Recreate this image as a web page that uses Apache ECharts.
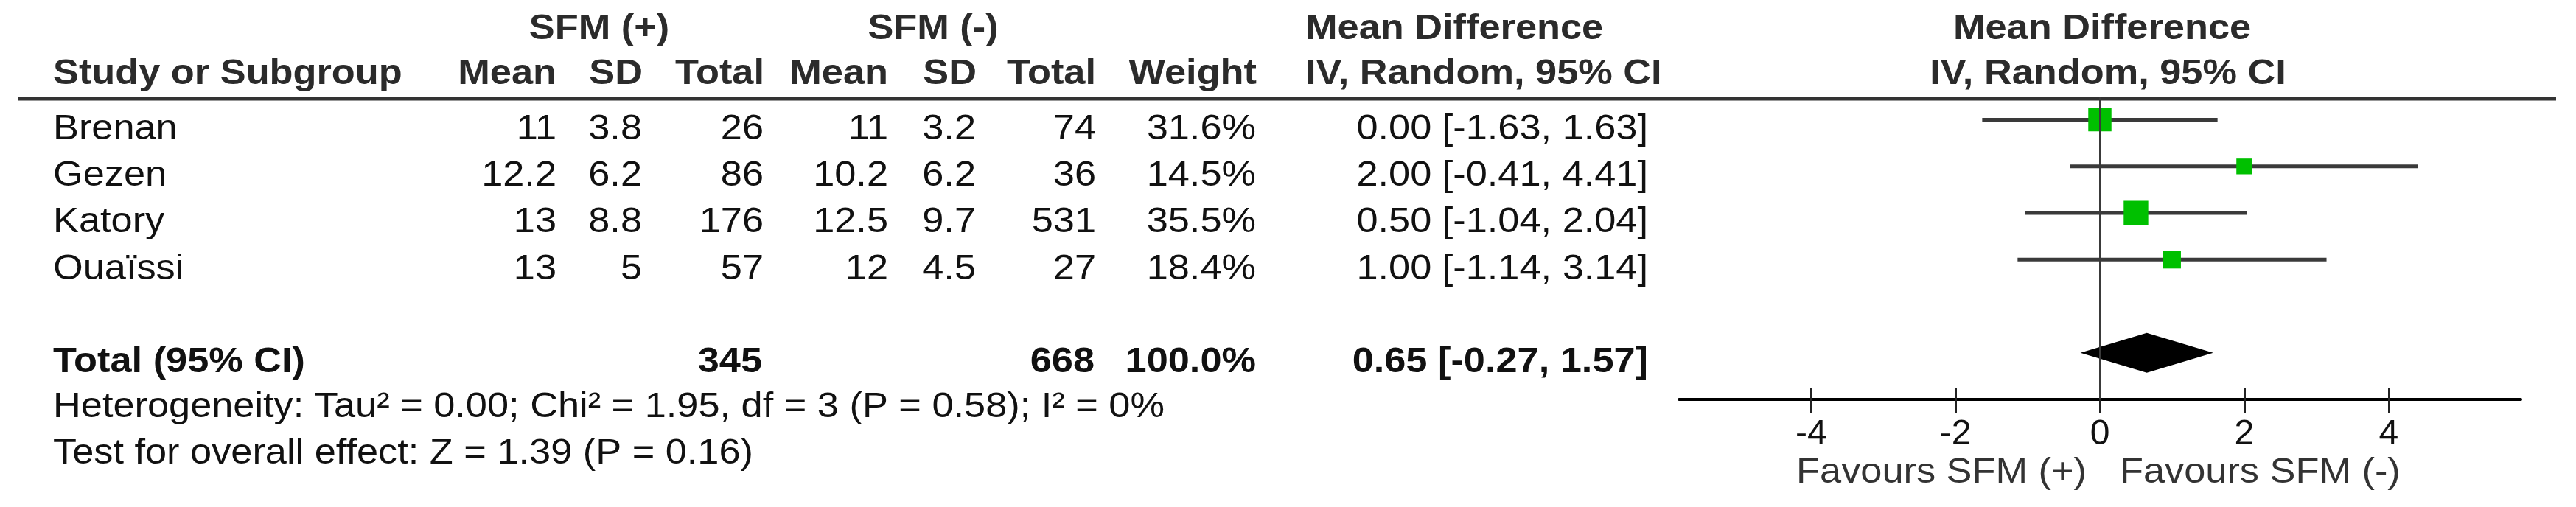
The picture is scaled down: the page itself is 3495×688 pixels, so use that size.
<!DOCTYPE html>
<html><head><meta charset="utf-8">
<script src="https://cdn.jsdelivr.net/npm/echarts@6/dist/echarts.min.js"></script>
<style>html,body{margin:0;padding:0;background:#fff}#c{width:3495px;height:688px}</style>
</head><body><div id="c"></div>
<script>
// ---- data ----
const studies = ['Brenan', 'Gezen', 'Katory', 'Ouaïssi'];
const meanPos = ['11', '12.2', '13', '13'];
const sdPos = ['3.8', '6.2', '8.8', '5'];
const totalPos = [26, 86, 176, 57];
const meanNeg = ['11', '10.2', '12.5', '12'];
const sdNeg = ['3.2', '6.2', '9.7', '4.5'];
const totalNeg = [74, 36, 531, 27];
const weights = [31.6, 14.5, 35.5, 18.4];
const md = [0.00, 2.00, 0.50, 1.00];
const ciLow = [-1.63, -0.41, -1.04, -1.14];
const ciHigh = [1.63, 4.41, 2.04, 3.14];
const pooledLabel = 'Total (95% CI)';
const pooledTotals = [345, 668];
const pooledWeight = [100.0];
const pooledEffect = [0.65, -0.27, 1.57];
const xTicks = [-4, -2, 0, 2, 4];
const footnotes = ['Heterogeneity: Tau² = 0.00; Chi² = 1.95, df = 3 (P = 0.58); I² = 0%',
                   'Test for overall effect: Z = 1.39 (P = 0.16)'];
const favourLabels = ['Favours SFM (+)', 'Favours SFM (-)'];

// ---- layout ----
const FONT = '"Liberation Sans", Arial, sans-serif';
const FS = 48;
const SX = 1.09;
const TOTAL_ROW = 5;
const fmt2 = v => v.toFixed(2);
const ciText = (m, l, h) => fmt2(m) + ' [' + fmt2(l) + ', ' + fmt2(h) + ']';

const chart = echarts.init(document.getElementById('c'), null, {renderer: 'canvas'});
const rowsIdx = studies.map((s, i) => i);

chart.setOption({
  animation: false,
  backgroundColor: '#ffffff',
  grid: {left: 2278, width: 1142, top: 131, height: 411, containLabel: false},
  xAxis: [{
    type: 'value', min: -5.83, max: 5.83, position: 'bottom',
    axisLine: {show: true, onZero: false, lineStyle: {color: '#000', width: 4}},
    axisTick: {show: true, customValues: xTicks, length: 18, lineStyle: {color: '#222', width: 3}},
    axisLabel: {show: false},
    splitLine: {show: false}
  }, {
    type: 'value', min: -5.83, max: 5.83, position: 'bottom', gridIndex: 0, offset: 0,
    axisLine: {show: false, onZero: false},
    axisTick: {show: true, inside: true, customValues: xTicks, length: 15, lineStyle: {color: '#222', width: 3}},
    axisLabel: {show: true, customValues: xTicks, fontSize: 48, fontFamily: FONT, color: '#111', margin: 24},
    splitLine: {show: false}
  }],
  yAxis: {type: 'value', min: -0.5, max: 6, inverse: true, show: false, splitLine: {show: false}},
  series: [
    {
      type: 'custom', name: 'ci', z: 2,
      data: rowsIdx.map(i => [ciLow[i], ciHigh[i], i]),
      renderItem: (params, api) => {
        const p1 = api.coord([api.value(0), api.value(2)]);
        const p2 = api.coord([api.value(1), api.value(2)]);
        return {type: 'line', shape: {x1: p1[0], y1: p1[1], x2: p2[0], y2: p2[1]},
                style: {stroke: '#3a3a3a', lineWidth: 5}};
      },
      markLine: {
        silent: true, symbol: 'none', label: {show: false},
        lineStyle: {color: '#3a3a3a', width: 3, type: 'solid'},
        data: [{xAxis: 0}]
      }
    },
    {
      type: 'scatter', name: 'studies', z: 3, symbol: 'rect',
      data: rowsIdx.map(i => [md[i], i, weights[i]]),
      symbolSize: v => Math.sqrt(v[2]) * 5.6,
      itemStyle: {color: '#00c000', opacity: 1}
    },
    {
      type: 'custom', name: 'pooled', z: 3,
      data: [[pooledEffect[0], pooledEffect[1], pooledEffect[2], TOTAL_ROW]],
      renderItem: (params, api) => {
        const r = api.value(3);
        const c = api.coord([api.value(0), r]);
        const l = api.coord([api.value(1), r]);
        const h = api.coord([api.value(2), r]);
        const hh = 27;
        return {type: 'polygon', shape: {points: [[l[0], c[1]], [c[0], c[1] - hh], [h[0], c[1]], [c[0], c[1] + hh]]},
                style: {fill: '#000'}};
      }
    }
  ]
});

// ---- table text ----
const yPix = r => chart.convertToPixel({yAxisIndex: 0}, r) + 13;
const x0 = chart.convertToPixel({xAxisIndex: 0}, 0);
const g = [];
function txt(t, x, y, align, bold, size, color) {
  g.push({type: 'text', silent: true, x: x, y: y, scaleX: SX, scaleY: 1, style: {
    text: String(t), x: 0, y: 0, align: align || 'left', verticalAlign: 'middle',
    fontFamily: FONT, fontSize: size || FS, fontWeight: bold ? 'bold' : 'normal', fill: color || '#111'}});
}
// header line
g.push({type: 'line', silent: true, shape: {x1: 25, y1: 134, x2: 3468, y2: 134}, style: {stroke: '#333', lineWidth: 5}});
// header row 1
const H1 = 40, H2 = 101, HC = '#2b2b2b';
txt('SFM (+)', 813, H1, 'center', true, FS, HC);
txt('SFM (-)', 1266, H1, 'center', true, FS, HC);
txt('Mean Difference', 1771, H1, 'left', true, FS, HC);
txt('Mean Difference', 2852, H1, 'center', true, FS, HC);
// header row 2
txt('Study or Subgroup', 72, H2, 'left', true, FS, HC);
txt('Mean', 755, H2, 'right', true, FS, HC);
txt('SD', 872, H2, 'right', true, FS, HC);
txt('Total', 1037, H2, 'right', true, FS, HC);
txt('Mean', 1205, H2, 'right', true, FS, HC);
txt('SD', 1325, H2, 'right', true, FS, HC);
txt('Total', 1487, H2, 'right', true, FS, HC);
txt('Weight', 1705, H2, 'right', true, FS, HC);
txt('IV, Random, 95% CI', 1771, H2, 'left', true, FS, HC);
txt('IV, Random, 95% CI', 2860, H2, 'center', true, FS, HC);
// study rows
rowsIdx.forEach(i => {
  const y = yPix(i);
  txt(studies[i], 72, y, 'left');
  txt(meanPos[i], 755, y, 'right');
  txt(sdPos[i], 871, y, 'right');
  txt(totalPos[i], 1036, y, 'right');
  txt(meanNeg[i], 1205, y, 'right');
  txt(sdNeg[i], 1324, y, 'right');
  txt(totalNeg[i], 1487, y, 'right');
  txt(weights[i].toFixed(1) + '%', 1704, y, 'right');
  txt(ciText(md[i], ciLow[i], ciHigh[i]), 2236, y, 'right');
});
// total row
const yt = yPix(TOTAL_ROW);
txt(pooledLabel, 72, yt, 'left', true);
txt(pooledTotals[0], 1034, yt, 'right', true);
txt(pooledTotals[1], 1485, yt, 'right', true);
txt(pooledWeight[0].toFixed(1) + '%', 1704, yt, 'right', true);
txt(ciText(pooledEffect[0], pooledEffect[1], pooledEffect[2]), 2236, yt, 'right', true);
// footnotes
txt(footnotes[0], 72, 553, 'left', false, FS);
txt(footnotes[1], 72, 616, 'left', false, FS);
// favours
txt(favourLabels[0], x0 - 18, 642, 'right', false, FS, '#333');
txt(favourLabels[1], x0 + 27, 642, 'left', false, FS, '#333');

chart.setOption({graphic: {elements: g}});
</script>
</body></html>
